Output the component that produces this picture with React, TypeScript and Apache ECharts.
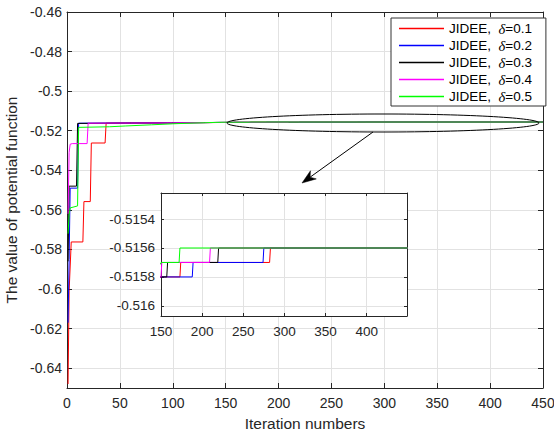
import React, { useEffect, useRef } from 'react';
import * as echarts from 'echarts';

// Step parameters of the five runs
const deltaValues = ['0.1', '0.2', '0.3', '0.4', '0.5'];
const seriesNames = deltaValues.map((d) => `JIDEE,  δ=${d}`);

// Best potential-function value per iteration, [iteration, value]
const delta01: [number, number][] = [
  [1, -0.648], [2, -0.601], [4, -0.5762], [15, -0.5762], [16, -0.5558], [22, -0.5558],
  [23, -0.5262], [36, -0.5262], [37, -0.5162], [70, -0.5161], [105, -0.516], [135, -0.5159],
  [148, -0.5158], [173, -0.5158], [174, -0.5157], [282, -0.5157], [283, -0.5156], [450, -0.5156],
];
const delta02: [number, number][] = [
  [1, -0.617], [2, -0.585], [3, -0.549], [10, -0.549], [11, -0.5162], [60, -0.5161],
  [100, -0.516], [130, -0.5159], [145, -0.5158], [188, -0.5158], [189, -0.5157],
  [274, -0.5157], [275, -0.5156], [450, -0.5156],
];
const delta03: [number, number][] = [
  [1, -0.586], [2, -0.548], [9, -0.548], [10, -0.5163], [55, -0.5161], [95, -0.516],
  [125, -0.5159], [142, -0.5158], [157, -0.5158], [158, -0.5157], [219, -0.5157],
  [220, -0.5156], [450, -0.5156],
];
const delta04: [number, number][] = [
  [1, -0.562], [2, -0.531], [3, -0.5268], [5, -0.5265], [19, -0.5265], [20, -0.5162],
  [60, -0.5161], [100, -0.516], [130, -0.5159], [145, -0.5158], [150, -0.5158],
  [151, -0.5157], [209, -0.5157], [210, -0.5156], [450, -0.5156],
];
const delta05: [number, number][] = [
  [1, -0.572], [2, -0.5625], [3, -0.559], [10, -0.558], [11, -0.5183], [40, -0.518],
  [55, -0.5176], [80, -0.517], [100, -0.5165], [120, -0.5161], [140, -0.5158],
  [150, -0.5157], [172, -0.5157], [173, -0.5156], [450, -0.5156],
];
const seriesData = [delta01, delta02, delta03, delta04, delta05];

// Tick labels
const mainYTicks = [-0.64, -0.62, -0.6, -0.58, -0.56, -0.54, -0.52, -0.5, -0.48, -0.46];
const insetXTicks = [150, 200, 250, 300, 350, 400];
const insetYTicks = [-0.516, -0.5158, -0.5156, -0.5154];

const lineColors = ['#ff0000', '#0000ff', '#000000', '#ff00ff', '#00ff00'];
const FONT = "'Liberation Sans', Arial, Helvetica, sans-serif";
const AXIS_COLOR = '#262626';
const GRID_COLOR = '#e2e2e2';

const fmt = (v: number) => String(parseFloat(Number(v).toFixed(4)));

function buildOption() {
  const labelStyle = (size: number, margin: number) => ({
    color: AXIS_COLOR,
    fontFamily: FONT,
    fontSize: size,
    margin,
  });
  const line = { show: true, onZero: false, lineStyle: { color: AXIS_COLOR, width: 1 } };
  const split = { show: true, lineStyle: { color: GRID_COLOR, width: 1 } };

  const xAxis = [
    {
      gridIndex: 0, type: 'value', min: 0, max: 450, interval: 50, position: 'bottom',
      axisLine: line,
      axisTick: { inside: true, length: 5, lineStyle: { color: AXIS_COLOR } },
      axisLabel: { ...labelStyle(14, 8), formatter: fmt },
      splitLine: split,
      name: 'Iteration numbers', nameLocation: 'middle', nameGap: 27,
      nameTextStyle: { fontFamily: FONT, fontSize: 15.5, color: AXIS_COLOR },
    },
    {
      gridIndex: 0, type: 'value', min: 0, max: 450, interval: 50, position: 'top',
      axisLine: line,
      axisTick: { inside: true, length: 5, lineStyle: { color: AXIS_COLOR } },
      axisLabel: { show: false },
      splitLine: { show: false },
    },
    {
      gridIndex: 1, type: 'value', min: 150, max: 449, position: 'bottom', z: 4,
      axisLine: line,
      axisTick: { inside: true, length: 3, customValues: insetXTicks, lineStyle: { color: AXIS_COLOR } },
      axisLabel: { ...labelStyle(13.5, 8), customValues: insetXTicks, formatter: fmt },
      splitLine: split,
    },
    {
      gridIndex: 1, type: 'value', min: 150, max: 449, position: 'top', z: 4,
      axisLine: line,
      axisTick: { inside: true, length: 3, customValues: insetXTicks, lineStyle: { color: AXIS_COLOR } },
      axisLabel: { show: false },
      splitLine: { show: false },
    },
  ];

  const yAxis = [
    {
      gridIndex: 0, type: 'value', min: -0.65, max: -0.46, position: 'left',
      axisLine: line,
      axisTick: { inside: true, length: 5, customValues: mainYTicks, lineStyle: { color: AXIS_COLOR } },
      axisLabel: { ...labelStyle(14, 5), customValues: mainYTicks, formatter: fmt },
      splitLine: split,
      name: 'The value of potential function', nameLocation: 'middle', nameGap: 41,
      nameTextStyle: { fontFamily: FONT, fontSize: 15.5, color: AXIS_COLOR },
    },
    {
      gridIndex: 0, type: 'value', min: -0.65, max: -0.46, position: 'right',
      axisLine: line,
      axisTick: { inside: true, length: 5, customValues: mainYTicks, lineStyle: { color: AXIS_COLOR } },
      axisLabel: { show: false },
      splitLine: { show: false },
    },
    {
      gridIndex: 1, type: 'value', min: -0.51607, max: -0.51522, position: 'left', z: 4,
      axisLine: line,
      axisTick: { inside: true, length: 3, customValues: insetYTicks, lineStyle: { color: AXIS_COLOR } },
      axisLabel: { ...labelStyle(13.5, 6), customValues: insetYTicks, formatter: fmt },
      splitLine: split,
    },
    {
      gridIndex: 1, type: 'value', min: -0.51607, max: -0.51522, position: 'right', z: 4,
      axisLine: line,
      axisTick: { inside: true, length: 3, customValues: insetYTicks, lineStyle: { color: AXIS_COLOR } },
      axisLabel: { show: false },
      splitLine: { show: false },
    },
  ];

  const series: any[] = [];
  seriesData.forEach((data, i) => {
    const common = {
      type: 'line',
      name: seriesNames[i],
      data,
      showSymbol: false,
      symbol: 'none',
      clip: true,
      lineStyle: { width: 1, color: lineColors[i] },
      itemStyle: { color: lineColors[i] },
    };
    series.push({ ...common, xAxisIndex: 0, yAxisIndex: 0, z: 2 });
    series.push({ ...common, xAxisIndex: 2, yAxisIndex: 2, z: 5 });
  });

  // Zoom marker: ellipse around the converged segment and an arrow to the inset
  const tip = [302, 183];
  const tail = [373, 132];
  const dx = tip[0] - tail[0];
  const dy = tip[1] - tail[1];
  const len = Math.hypot(dx, dy);
  const ux = dx / len;
  const uy = dy / len;
  const nx = -uy;
  const ny = ux;
  const headLen = 14;
  const headHalf = 5;
  const bx = tip[0] - headLen * ux;
  const by = tip[1] - headLen * uy;
  const notchX = tip[0] - 10 * ux;
  const notchY = tip[1] - 10 * uy;

  return {
    animation: false,
    backgroundColor: '#ffffff',
    grid: [
      { left: 67, top: 12, width: 476, height: 376, containLabel: false, outerBoundsMode: 'none' },
      {
        left: 161, top: 193, width: 246, height: 123, containLabel: false, outerBoundsMode: 'none',
        show: true, backgroundColor: '#ffffff', borderWidth: 0, z: 3,
      },
    ],
    xAxis,
    yAxis,
    legend: {
      data: seriesNames,
      orient: 'vertical',
      left: 391,
      top: 18,
      icon: 'rect',
      itemWidth: 45,
      itemHeight: 1.5,
      itemGap: 2,
      padding: [3, 14, 2, 8],
      backgroundColor: '#ffffff',
      borderColor: '#333333',
      borderWidth: 1,
      borderRadius: 0,
      selectedMode: false,
      z: 8,
      formatter: (n: string) => n.replace('δ', '{d|δ}'),
      textStyle: {
        fontFamily: FONT,
        fontSize: 13.5,
        lineHeight: 14,
        color: '#000000',
        rich: {
          d: {
            fontFamily: "'Liberation Serif', 'DejaVu Serif', serif",
            fontStyle: 'italic',
            fontSize: 14.5,
            lineHeight: 14,
            color: '#000000',
          },
        },
      },
    },
    graphic: [
      {
        type: 'ellipse', z: 10, silent: true,
        shape: { cx: 383, cy: 123, rx: 156, ry: 9 },
        style: { fill: 'none', stroke: '#000000', lineWidth: 1 },
      },
      {
        type: 'line', z: 10, silent: true,
        shape: { x1: tail[0], y1: tail[1], x2: notchX, y2: notchY },
        style: { stroke: '#000000', lineWidth: 1 },
      },
      {
        type: 'polygon', z: 10, silent: true,
        shape: {
          points: [
            [tip[0], tip[1]],
            [bx + headHalf * nx, by + headHalf * ny],
            [notchX, notchY],
            [bx - headHalf * nx, by - headHalf * ny],
          ],
        },
        style: { fill: '#000000', stroke: '#000000', lineWidth: 0.5 },
      },
    ],
    series,
  };
}

export default function App() {
  const ref = useRef<HTMLDivElement>(null);

  useEffect(() => {
    if (!ref.current) return;
    const chart = echarts.init(ref.current, undefined, { renderer: 'svg' });
    chart.setOption(buildOption() as any);
    return () => chart.dispose();
  }, []);

  return (
    <div
      ref={ref}
      style={{ position: 'fixed', left: 0, top: 0, width: 554, height: 435, background: '#fff' }}
    />
  );
}
